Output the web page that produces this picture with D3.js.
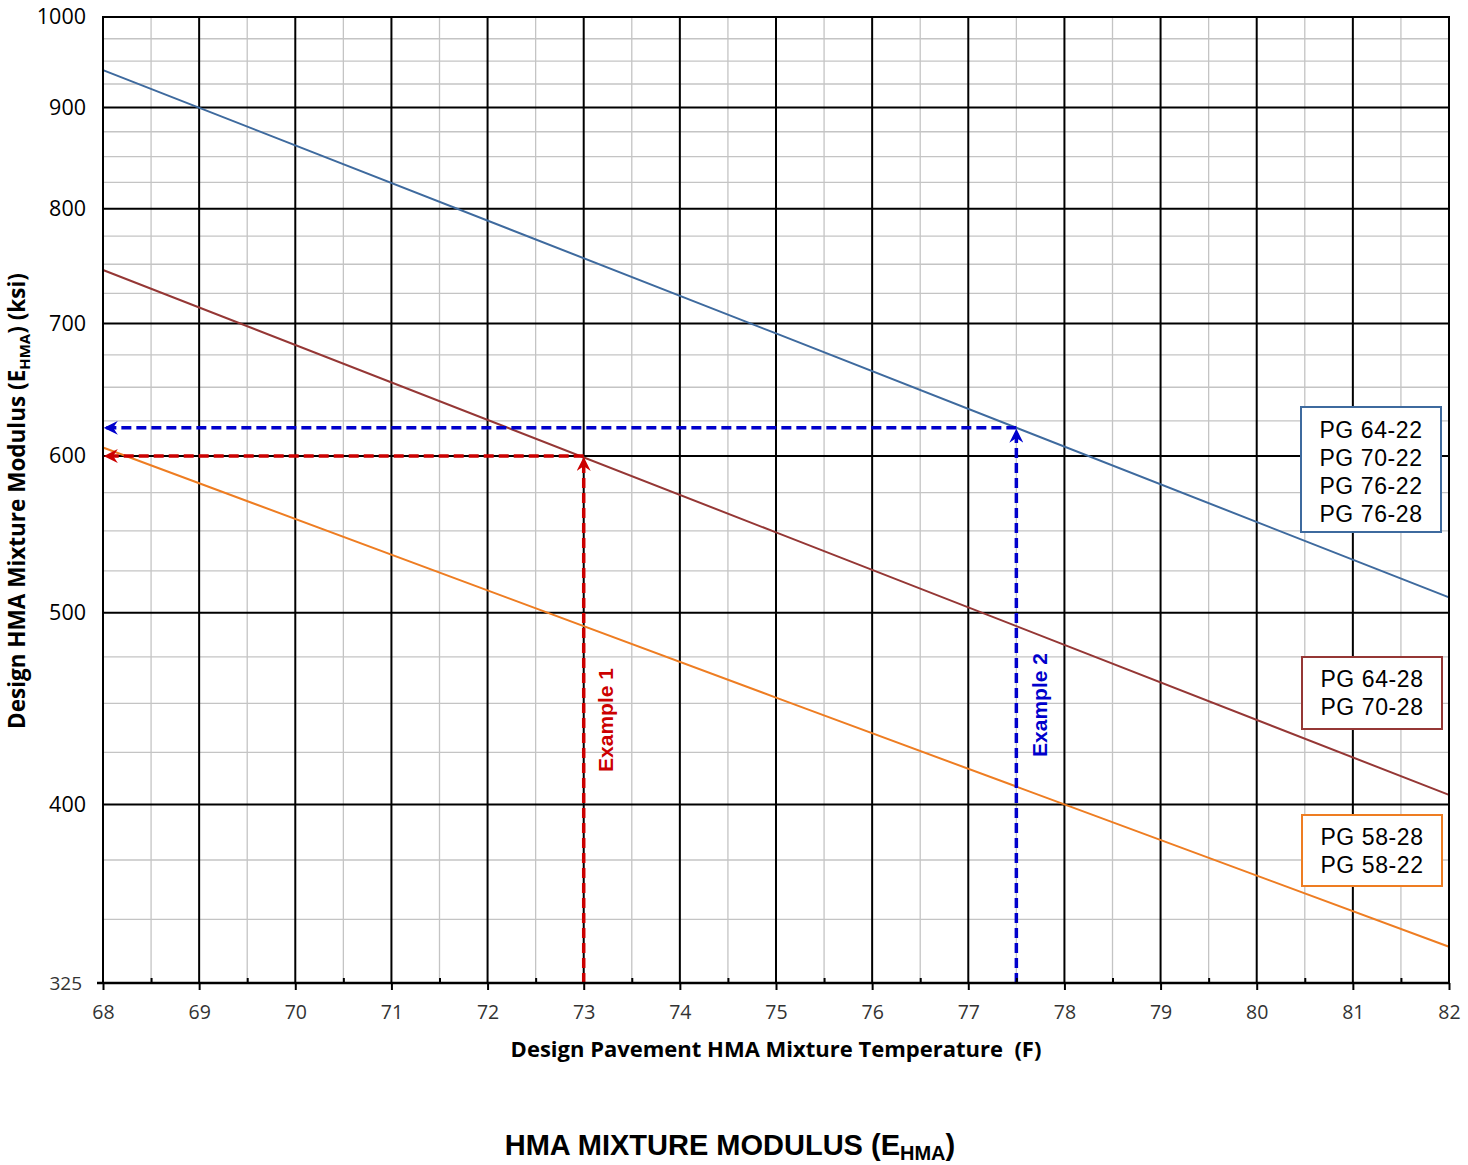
<!DOCTYPE html>
<html><head><meta charset="utf-8">
<script src="https://cdn.jsdelivr.net/npm/d3@7"></script>
<style>body{margin:0;background:#fff} svg{display:block}</style>
</head><body>
<svg id="chart" width="1468" height="1165"></svg>
<script>
// ---- data ----
const temperatures = [68, 75, 82];
const modulusPG64_22 = [940, 692, 509];
const modulusPG64_28 = [745, 549, 404.5];
const modulusPG58_28 = [606, 453, 339];
const xTickValues = [68, 69, 70, 71, 72, 73, 74, 75, 76, 77, 78, 79, 80, 81, 82];
const xMinorValues = [68.5, 69.5, 70.5, 71.5, 72.5, 73.5, 74.5, 75.5, 76.5, 77.5, 78.5, 79.5, 80.5, 81.5];
const yTickValues = [325, 400, 500, 600, 700, 800, 900, 1000];
const yMajorGrid = [400, 500, 600, 700, 800, 900];
const yMinorValues = [350, 375, 425, 450, 475, 525, 550, 575, 625, 650, 675, 725, 750, 775, 825, 850, 875, 925, 950, 975];
const exampleTemps = [73, 77.5];
const exampleModuli = [600, 620];
const exampleLabels = ["Example 1", "Example 2"];
const legendGroups = [
  ["PG 64-22", "PG 70-22", "PG 76-22", "PG 76-28"],
  ["PG 64-28", "PG 70-28"],
  ["PG 58-28", "PG 58-22"]
];

// ---- styling ----
const seriesColors = ["#3e6a9e", "#953735", "#ee7d22"];
const exampleColors = ["#cc0000", "#0000cc"];
const svg = d3.select("#chart");
svg.append("rect").attr("width", 1468).attr("height", 1165).attr("fill", "#fff");

const L = 103, R = 1449, T = 17, B = 983;
const x = d3.scaleLinear().domain([68, 82]).range([L, R]);
const y = d3.scaleLog().domain([325, 1000]).range([B, T]);

// grid
const grid = svg.append("g");
grid.selectAll(".vmin").data(xMinorValues).enter().append("line")
  .attr("x1", d => x(d)).attr("x2", d => x(d)).attr("y1", T).attr("y2", B)
  .attr("stroke", "#c4c4c4").attr("stroke-width", 1.3);
grid.selectAll(".hmin").data(yMinorValues).enter().append("line")
  .attr("x1", L).attr("x2", R).attr("y1", d => y(d)).attr("y2", d => y(d))
  .attr("stroke", "#c4c4c4").attr("stroke-width", 1.3);
grid.selectAll(".vmaj").data(xTickValues.slice(1, -1)).enter().append("line")
  .attr("x1", d => x(d)).attr("x2", d => x(d)).attr("y1", T).attr("y2", B)
  .attr("stroke", "#000").attr("stroke-width", 2);
grid.selectAll(".hmaj").data(yMajorGrid).enter().append("line")
  .attr("x1", L).attr("x2", R).attr("y1", d => y(d)).attr("y2", d => y(d))
  .attr("stroke", "#000").attr("stroke-width", 2);

// series
const line = d3.line().x(d => x(d[0])).y(d => y(d[1]));
[modulusPG64_22, modulusPG64_28, modulusPG58_28].forEach((vals, i) => {
  svg.append("path")
    .datum(temperatures.map((t, j) => [t, vals[j]]))
    .attr("d", line).attr("fill", "none")
    .attr("stroke", seriesColors[i]).attr("stroke-width", 2);
});

// arrow markers
const defs = svg.append("defs");
exampleColors.forEach((c, i) => {
  defs.append("marker").attr("id", "arr" + i)
    .attr("viewBox", "0 0 12 12").attr("refX", 11).attr("refY", 6)
    .attr("markerUnits", "userSpaceOnUse")
    .attr("markerWidth", 14).attr("markerHeight", 14).attr("orient", "auto")
    .append("path").attr("d", "M0,0 L12,6 L0,12 L4,6 Z").attr("fill", c);
});

// example lines
exampleTemps.forEach((t, i) => {
  const m = exampleModuli[i];
  const c = exampleColors[i];
  svg.append("path")
    .attr("d", `M${x(t)},${y(325)}L${x(t)},${y(m) + 2}`)
    .attr("stroke", c).attr("stroke-width", 3.5).attr("stroke-dasharray", "10,5")
    .attr("fill", "none").attr("marker-end", `url(#arr${i})`);
  svg.append("path")
    .attr("d", `M${x(t)},${y(m)}L${x(68) + 2},${y(m)}`)
    .attr("stroke", c).attr("stroke-width", 3.5).attr("stroke-dasharray", "10,5")
    .attr("fill", "none").attr("marker-end", `url(#arr${i})`);
});

// example labels
const exLabelPos = [[x(73) + 22, 720], [x(77.5) + 23, 705]];
exampleLabels.forEach((lab, i) => {
  svg.append("text")
    .attr("transform", `translate(${exLabelPos[i][0]},${exLabelPos[i][1]}) rotate(-90)`)
    .attr("text-anchor", "middle").attr("dy", "0.36em")
    .attr("font-family", "Liberation Sans, Arial, sans-serif")
    .attr("font-weight", "bold").attr("font-size", 21)
    .attr("fill", exampleColors[i]).text(lab);
});

// frame
svg.append("rect").attr("x", L).attr("y", T).attr("width", R - L).attr("height", B - T)
  .attr("fill", "none").attr("stroke", "#000").attr("stroke-width", 2);
svg.append("line").attr("x1", L - 6).attr("x2", R).attr("y1", B).attr("y2", B)
  .attr("stroke", "#000").attr("stroke-width", 2.5);

// x axis
const xAxis = svg.append("g").attr("transform", `translate(0,${B})`)
  .call(d3.axisBottom(x).tickValues(xTickValues).tickSize(7).tickFormat(d3.format("d")));
xAxis.select(".domain").remove();
xAxis.selectAll(".tick line").attr("stroke", "#000").attr("stroke-width", 2);
xAxis.selectAll(".tick text").attr("y", 29).attr("dy", "0.35em")
  .attr("font-family", "Open Sans, sans-serif").attr("font-size", 19.5).attr("fill", "#333");
const xMinor = svg.append("g").attr("transform", `translate(0,${B})`)
  .call(d3.axisBottom(x).tickValues(xMinorValues).tickSize(-5).tickFormat(""));
xMinor.select(".domain").remove();
xMinor.selectAll(".tick line").attr("stroke", "#000").attr("stroke-width", 2);

// y axis
const yAxis = svg.append("g").attr("transform", `translate(${L},0)`)
  .call(d3.axisLeft(y).tickValues(yTickValues).tickSize(0).tickPadding(17).tickFormat(d3.format("d")));
yAxis.select(".domain").remove();
yAxis.selectAll(".tick text")
  .attr("x", d => d === 325 ? -21 : -17)
  .attr("font-family", "Open Sans, sans-serif")
  .attr("font-size", d => d === 325 ? 19 : 21.5)
  .attr("fill", d => d === 325 ? "#333" : "#000");

// legends
const legendBoxes = [[1301, 407, 140, 125], [1302, 657, 140, 72], [1302, 815, 140, 71]];
const legendBase = [438, 687, 845];
legendGroups.forEach((labels, i) => {
  const b = legendBoxes[i];
  svg.append("rect").attr("x", b[0]).attr("y", b[1]).attr("width", b[2]).attr("height", b[3])
    .attr("fill", "#fff").attr("stroke", seriesColors[i]).attr("stroke-width", 2);
  labels.forEach((lab, j) => {
    svg.append("text").attr("x", b[0] + b[2] / 2).attr("y", legendBase[i] + j * 28)
      .attr("text-anchor", "middle")
      .attr("font-family", "Liberation Sans, Arial, sans-serif").attr("font-size", 23)
      .attr("letter-spacing", 0.6).attr("fill", "#000").text(lab);
  });
});

// axis titles
const yt = svg.append("text")
  .attr("transform", "translate(17,501) rotate(-90)")
  .attr("text-anchor", "middle").attr("dy", "0.36em")
  .attr("font-family", "Open Sans, sans-serif").attr("font-weight", "bold").attr("font-size", 22.5)
  .attr("fill", "#000");
yt.append("tspan").text("Design HMA Mixture Modulus (E");
yt.append("tspan").attr("font-size", 15).attr("dy", 5).text("HMA");
yt.append("tspan").attr("dy", -5).text(") (ksi)");

svg.append("text").attr("x", 776).attr("y", 1049).attr("dy", "0.35em")
  .attr("text-anchor", "middle")
  .attr("font-family", "Open Sans, sans-serif").attr("font-weight", "bold").attr("font-size", 22)
  .attr("fill", "#000").text("Design Pavement HMA Mixture Temperature  (F)")
  .style("white-space", "pre");

const ct = svg.append("text").attr("x", 730).attr("y", 1145).attr("dy", "0.36em")
  .attr("text-anchor", "middle")
  .attr("font-family", "Liberation Sans, Arial, sans-serif").attr("font-weight", "bold").attr("font-size", 29)
  .attr("fill", "#000");
ct.append("tspan").text("HMA MIXTURE MODULUS (E");
ct.append("tspan").attr("font-size", 20).attr("dy", 5).text("HMA");
ct.append("tspan").attr("dy", -5).text(")");
</script>
</body></html>
